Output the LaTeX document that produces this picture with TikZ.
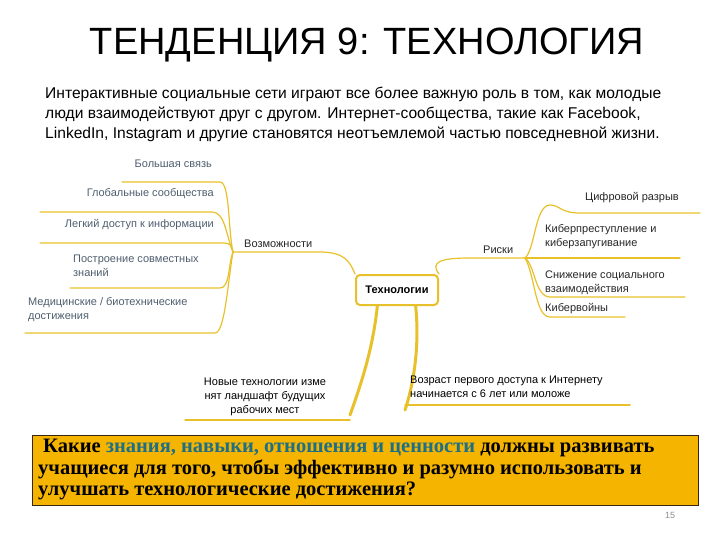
\documentclass[tikz,border=0pt]{standalone}
\usepackage{fontspec}
\setmainfont{Liberation Sans}
\newfontfamily\serifb{Liberation Serif}
\definecolor{br}{HTML}{E8C12A}
\definecolor{leaf}{HTML}{4E5E6E}
\definecolor{qbg}{HTML}{F4B400}
\definecolor{qtl}{HTML}{1E6F86}
\begin{document}
\begin{tikzpicture}[x=1pt,y=-1pt,
  br/.style={draw=br,line width=1.2pt,line cap=round},
  thick br/.style={draw=br,line width=3pt,line cap=round},
  lf/.style={font=\fontsize{11}{14}\selectfont,text=leaf,align=left,inner sep=0},
  rf/.style={font=\fontsize{11}{14}\selectfont,text=black!85,align=left,inner sep=0}]
\useasboundingbox (0,0) rectangle (720,540);
\node[font=\fontsize{38}{40}\selectfont] (title) at (367,45) {ТЕНДЕНЦИЯ 9: ТЕХНОЛОГИЯ};
\node[anchor=north west,align=left,inner sep=0,font=\fontsize{15.6}{20}\selectfont] (par) at (45,87) {Интерактивные социальные сети играют все более важную роль в том, как молодые\\
люди взаимодействуют друг с другом. Интернет-сообщества, такие как Facebook,\\
LinkedIn, Instagram и другие становятся неотъемлемой частью повседневной жизни.};
% centre
\draw[thick br] (350,415) .. controls (370,360) and (375,330) .. (378,300);
\draw[thick br] (415,300) .. controls (420,340) and (415,380) .. (405,410);
\node[draw=br,line width=2pt,rounded corners=4pt,fill=white,minimum width=82pt,minimum height=30pt,font=\fontsize{11}{12}\selectfont\bfseries] (tech) at (397,290) {Технологии};
% Vozmozhnosti
\coordinate (lb) at (233,252);
\node[rf,anchor=south west] (voz) at (244,248) {Возможности};
\draw[br] (lb) -- (320,252) .. controls (345,252) and (350,262) .. (tech.north west);
\node[lf,anchor=south east] (l1) at (212,168) {Большая связь};
\node[lf,anchor=south east] (l2) at (214,199) {Глобальные сообщества};
\node[lf,anchor=south east] (l3) at (214,230) {Легкий доступ к информации};
\node[lf,anchor=south west] (l4) at (73,277) {Построение совместных\\знаний};
\node[lf,anchor=south west] (l5) at (28,322) {Медицинские / биотехнические\\достижения};
\draw[br] (lb) .. controls (228,230) and (230,182) .. (220,182) -- (122,182);
\draw[br] (lb) .. controls (226,235) and (225,212) .. (212,212) -- (40,212);
\draw[br] (lb) .. controls (230,245) and (232,243) .. (222,243) -- (40,243);
\draw[br] (lb) .. controls (228,265) and (230,288) .. (220,288) -- (70,288);
\draw[br] (lb) .. controls (228,280) and (225,333) .. (215,333) -- (25,333);
% Riski
\coordinate (rb) at (525,258);
\node[rf,anchor=south west] (risk) at (483,254) {Риски};
\draw[br] (tech.north east) .. controls (430,262) and (440,258) .. (470,258) -- (rb);
\node[rf,anchor=south west] (r1) at (585,203) {Цифровой разрыв};
\node[rf,anchor=south west] (r2) at (545,249) {Киберпреступление и\\киберзапугивание};
\node[rf,anchor=south west] (r3) at (545,295) {Снижение социального\\взаимодействия};
\node[rf,anchor=south west] (r4) at (545,314) {Кибервойны};
\draw[br] (rb) .. controls (535,250) and (535,205) .. (550,205) .. controls (560,205) and (560,213) .. (580,213) -- (700,213);
\draw[br] (rb) -- (680,258);
\draw[br] (rb) .. controls (535,265) and (535,297) .. (550,297) -- (685,297);
\draw[br] (rb) .. controls (535,275) and (535,317) .. (550,317) -- (625,317);
% bottom leaves
\node[font=\fontsize{11}{14}\selectfont,align=center,inner sep=0,anchor=south] (nt) at (265,416) {Новые технологии изме\\нят ландшафт будущих\\рабочих мест};
\draw[br,line width=1.5pt] (185,420) -- (350,420);
\node[font=\fontsize{11}{14}\selectfont,align=left,inner sep=0,anchor=south west] (age) at (410,398) {Возраст первого доступа к Интернету\\начинается с 6 лет или моложе};
\draw[br,line width=1.5pt] (405,405) -- (630,405);
% question
\node[draw=black!70!brown,line width=1pt,fill=qbg,minimum width=666pt,minimum height=70pt,anchor=north west,inner sep=0] (qbox) at (32,435) {};
\node[anchor=north west,align=left,inner sep=0,font=\serifb\bfseries\fontsize{20.5}{21.5}\selectfont] (q) at (38,439)
{\hspace*{5pt}Какие \textcolor{qtl}{знания, навыки, отношения и ценности} должны развивать\\
учащиеся для того, чтобы эффективно и разумно использовать и\\
улучшать технологические достижения?};
\node[text=black!45,font=\fontsize{9}{10}\selectfont] (pg) at (670,515) {15};
\end{tikzpicture}
\end{document}
